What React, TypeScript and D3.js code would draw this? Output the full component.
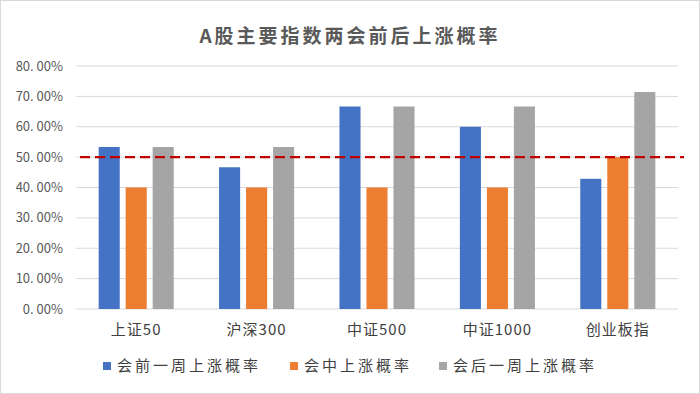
import { useEffect, useRef } from 'react'
import * as d3 from 'd3'

const categories = ['上证50', '沪深300', '中证500', '中证1000', '创业板指']
const seriesNames = ['会前一周上涨概率', '会中上涨概率', '会后一周上涨概率']
const beforeWeek = [0.5333, 0.4667, 0.6667, 0.6, 0.4286]
const during = [0.4, 0.4, 0.4, 0.4, 0.5]
const afterWeek = [0.5333, 0.5333, 0.6667, 0.6667, 0.7143]
const yTicks = [0, 0.1, 0.2, 0.3, 0.4, 0.5, 0.6, 0.7, 0.8]
const threshold = 0.5
const colors = ['#4472C4', '#ED7D31', '#A5A5A5']

const FONT = '"Noto Sans CJK SC", "Noto Sans", sans-serif'

function App() {
  const svgRef = useRef<SVGSVGElement>(null)

  useEffect(() => {
    const width = 700
    const height = 394
    const values = [beforeWeek, during, afterWeek]

    const svg = d3.select(svgRef.current)
    svg.selectAll('*').remove()
    svg.attr('width', width).attr('height', height)

    svg.append('rect')
      .attr('x', 0.5).attr('y', 0.5)
      .attr('width', width - 1).attr('height', height - 1)
      .attr('fill', '#fff')
      .attr('stroke', '#d9d9d9')

    const left = 76, right = 678, top = 66, bottom = 309

    const x0 = d3.scaleBand().domain(categories).range([left, right])
    const x1 = d3.scaleBand().domain(seriesNames).range([0, 81]).paddingInner(0.22).paddingOuter(0.11)
    const y = d3.scaleLinear().domain([0, 0.8]).range([bottom, top])

    // grid
    svg.append('g')
      .selectAll('line')
      .data(yTicks)
      .join('line')
      .attr('x1', left).attr('x2', right)
      .attr('y1', d => y(d)).attr('y2', d => y(d))
      .attr('stroke', '#d9d9d9')
      .attr('stroke-width', 1)

    // y labels
    svg.append('g')
      .selectAll('text')
      .data(yTicks)
      .join('text')
      .attr('x', 63)
      .attr('y', d => y(d))
      .attr('dy', '0.35em')
      .attr('text-anchor', 'end')
      .attr('fill', '#595959')
      .attr('font-size', '13px')
      .attr('font-family', FONT)
      .text(d => d3.format('.2f')(d * 100).replace('.', '. ') + '%')

    // bars
    seriesNames.forEach((s, si) => {
      svg.append('g')
        .selectAll('rect')
        .data(categories)
        .join('rect')
        .attr('x', c => x0(c)! + x0.bandwidth() / 2 - 40.5 + x1(s)!)
        .attr('width', x1.bandwidth())
        .attr('y', (c, i) => y(values[si][i]))
        .attr('height', (c, i) => bottom - y(values[si][i]))
        .attr('fill', colors[si])
    })

    // x labels
    svg.append('g')
      .selectAll('text')
      .data(categories)
      .join('text')
      .attr('x', c => x0(c)! + x0.bandwidth() / 2)
      .attr('y', 335)
      .attr('text-anchor', 'middle')
      .attr('fill', '#404040')
      .attr('font-size', '15px')
      .attr('letter-spacing', '1px')
      .attr('font-family', FONT)
      .text(c => c)

    // 50% line
    svg.append('line')
      .attr('x1', 80).attr('x2', 684)
      .attr('y1', y(threshold)).attr('y2', y(threshold))
      .attr('stroke', '#C00000')
      .attr('stroke-width', 2.25)
      .attr('stroke-dasharray', '10,5')

    // title
    svg.append('text')
      .attr('x', 350)
      .attr('y', 43)
      .attr('text-anchor', 'middle')
      .attr('fill', '#595959')
      .attr('font-size', '19px')
      .attr('letter-spacing', '3px')
      .attr('font-weight', 'bold')
      .attr('font-family', FONT)
      .text('A股主要指数两会前后上涨概率')

    // legend
    const legendX = [103, 290, 439]
    seriesNames.forEach((s, i) => {
      svg.append('rect')
        .attr('x', legendX[i]).attr('y', 362)
        .attr('width', 8).attr('height', 8)
        .attr('fill', colors[i])
      svg.append('text')
        .attr('x', legendX[i] + 14)
        .attr('y', 366)
        .attr('dy', '0.35em')
        .attr('fill', '#404040')
        .attr('font-size', '15px')
        .attr('letter-spacing', '3px')
        .attr('font-family', FONT)
        .text(s)
    })
  }, [])

  return (
    <div style={{ position: 'absolute', left: 0, top: 0 }}>
      <svg ref={svgRef} style={{ display: 'block' }} />
    </div>
  )
}

export default App
